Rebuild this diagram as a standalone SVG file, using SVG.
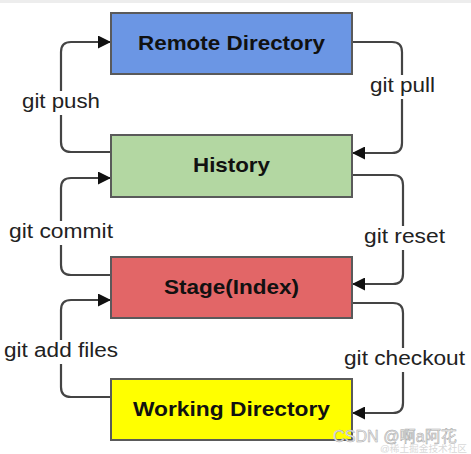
<svg xmlns="http://www.w3.org/2000/svg" width="471" height="454" viewBox="0 0 471 454">
<defs>
<style>
.box{stroke:#5a5a5a;stroke-width:2}
.lbl{font-family:"Liberation Sans",Arial,sans-serif;font-weight:bold;font-size:21px;fill:#111;text-anchor:middle}
.cl{font-family:"Liberation Sans",Arial,sans-serif;font-size:20px;fill:#222}
.conn{fill:none;stroke:#444;stroke-width:2.2}
.gap{fill:#fff}
</style>
<marker id="ah" viewBox="0 0 12 12" refX="12" refY="6" markerWidth="13" markerHeight="13" markerUnits="userSpaceOnUse" orient="auto">
<path d="M0,0 L12,6 L0,12 Z" fill="#111"/>
</marker>
</defs>
<rect x="0" y="0" width="471" height="454" fill="#fff"/>
<rect x="0" y="0" width="471" height="3" fill="#ededed"/>
<g id="connectors">
<path class="conn" d="M111,152 H71 Q61,152 61,142 V52 Q61,42 71,42 H111" marker-end="url(#ah)"/>
<path class="conn" d="M352,42 H392 Q402,42 402,52 V143 Q402,153 392,153 H352" marker-end="url(#ah)"/>
<path class="conn" d="M111,275 H71 Q61,275 61,265 V188 Q61,178 71,178 H111" marker-end="url(#ah)"/>
<path class="conn" d="M352,175 H393 Q403,175 403,185 V274 Q403,284 393,284 H352" marker-end="url(#ah)"/>
<path class="conn" d="M111,397 H71 Q61,397 61,387 V310 Q61,300 71,300 H111" marker-end="url(#ah)"/>
<path class="conn" d="M352,303 H393 Q403,303 403,313 V403 Q403,413 393,413 H352" marker-end="url(#ah)"/>
<rect class="gap" x="20" y="91" width="82" height="24"/>
<text class="cl" x="22" y="108" textLength="78" lengthAdjust="spacingAndGlyphs">git push</text>
<rect class="gap" x="368" y="75" width="70" height="24"/>
<text class="cl" x="370" y="92" textLength="65" lengthAdjust="spacingAndGlyphs">git pull</text>
<rect class="gap" x="7" y="221" width="108" height="24"/>
<text class="cl" x="9" y="238" textLength="104" lengthAdjust="spacingAndGlyphs">git commit</text>
<rect class="gap" x="362" y="226" width="85" height="24"/>
<text class="cl" x="364" y="243" textLength="81" lengthAdjust="spacingAndGlyphs">git reset</text>
<rect class="gap" x="2" y="340" width="118" height="24"/>
<text class="cl" x="4" y="357" textLength="114" lengthAdjust="spacingAndGlyphs">git add files</text>
<rect class="gap" x="342" y="348" width="125" height="24"/>
<text class="cl" x="344" y="365" textLength="121" lengthAdjust="spacingAndGlyphs">git checkout</text>
</g>
<g id="remote">
<rect class="box" x="111" y="13" width="241" height="61" fill="#6b96e4"/>
<text class="lbl" x="231.5" y="50" textLength="187" lengthAdjust="spacingAndGlyphs">Remote Directory</text>
</g>
<g id="history">
<rect class="box" x="111" y="135" width="241" height="62" fill="#b3d7a2"/>
<text class="lbl" x="231.5" y="172" textLength="77" lengthAdjust="spacingAndGlyphs">History</text>
</g>
<g id="stage">
<rect class="box" x="111" y="257" width="241" height="61" fill="#e26667"/>
<text class="lbl" x="231.5" y="294" textLength="135" lengthAdjust="spacingAndGlyphs">Stage(Index)</text>
</g>
<g id="working">
<rect class="box" x="111" y="379" width="241" height="61" fill="#ffff00"/>
<text class="lbl" x="231.5" y="416" textLength="197" lengthAdjust="spacingAndGlyphs">Working Directory</text>
</g>
<g id="watermark" font-family="'Liberation Sans','Noto Sans CJK SC',sans-serif">
<text x="333" y="442" font-size="16" fill="#eeeeee" stroke="#a8a8a8" stroke-width="0.5" textLength="124" lengthAdjust="spacingAndGlyphs">CSDN @啊a阿花</text>
<text x="380" y="452" font-size="9" fill="#d8d8d8" textLength="87" lengthAdjust="spacingAndGlyphs">@稀土掘金技术社区</text>
</g>
</svg>
